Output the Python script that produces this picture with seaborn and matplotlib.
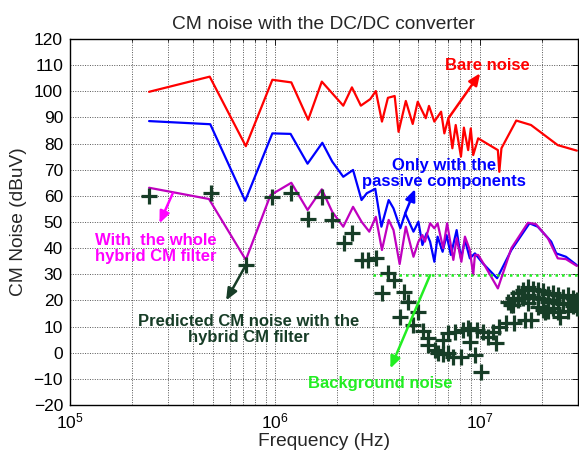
import numpy as np
import pandas as pd
import matplotlib
matplotlib.use("Agg")
import matplotlib.pyplot as plt
import seaborn as sns
from matplotlib.ticker import LogLocator, NullFormatter

# ---- measured CM noise spectra (frequency in MHz, level in dBuV) ----
bare_f = [0.243, 0.48, 0.72, 0.97, 1.2, 1.45, 1.69, 2.15, 2.37, 2.62, 2.91, 3.1,
          3.32, 3.55, 3.83, 4.0, 4.34, 4.69, 4.96, 5.43, 5.63, 5.98, 6.45, 6.69,
          7.0, 7.32, 7.6, 8.06, 8.33, 8.74, 9.0, 9.25, 9.78, 12.2, 12.4, 12.7,
          15.0, 17.7, 23.9, 29.6]
bare_db = [99.8, 105.6, 79.0, 104.4, 103.4, 89.1, 103.7, 94.5, 101.5, 94.5, 97.0, 100.1,
           88.4, 97.5, 98.2, 84.5, 96.3, 87.5, 96.0, 89.7, 94.4, 88.4, 92.2, 83.9,
           89.7, 78.2, 87.1, 75.0, 86.1, 77.5, 85.8, 75.6, 82.0, 77.5, 69.2, 78.2,
           88.8, 87.1, 79.4, 77.3]

passive_f = [0.243, 0.483, 0.715, 0.97, 1.19, 1.44, 1.7, 1.9, 2.15, 2.4, 2.64, 2.8,
             3.08, 3.3, 3.58, 3.78, 4.08, 4.31, 4.73, 5.0, 5.23, 5.48, 5.7, 5.98,
             6.2, 6.56, 6.86, 7.2, 7.68, 8.06, 8.43, 8.91, 9.43, 10.3, 12.1, 14.2,
             17.4, 19.1, 22.2, 23.5, 26.2, 29.6]
passive_db = [88.6, 87.4, 58.1, 83.9, 83.7, 72.3, 80.3, 73.1, 67.3, 69.9, 58.4, 61.0,
              62.7, 48.2, 58.4, 55.2, 47.6, 53.3, 46.3, 50.1, 41.2, 45.7, 42.5, 34.8,
              44.4, 38.6, 45.0, 37.4, 46.9, 36.1, 43.1, 36.1, 38.0, 34.2, 28.5, 39.3,
              49.5, 48.2, 42.5, 38.0, 36.7, 33.5]

hybrid_f = [0.243, 0.476, 0.72, 0.95, 1.2, 1.44, 1.69, 1.9, 2.15, 2.4, 2.64, 2.88,
            3.1, 3.32, 3.58, 3.78, 4.05, 4.34, 4.73, 5.0, 5.23, 5.38, 5.7, 5.98,
            6.2, 6.6, 6.9, 7.4, 7.68, 8.1, 8.43, 8.9, 9.25, 9.43, 9.78, 10.5,
            12.2, 14.2, 17.1, 18.7, 21.4, 23.9, 26.2, 29.6]
hybrid_db = [63.1, 58.8, 35.5, 60.3, 65.0, 54.6, 62.5, 53.9, 48.2, 55.8, 50.1, 46.3,
             52.0, 39.3, 50.8, 46.9, 33.9, 48.2, 36.7, 42.5, 45.0, 42.5, 49.5, 47.6,
             49.5, 40.0, 49.5, 35.5, 43.8, 34.8, 44.4, 39.3, 29.7, 37.4, 37.4, 33.5,
             24.6, 40.0, 49.7, 49.2, 43.8, 36.1, 35.8, 33.2]

# predicted CM noise with the hybrid filter
pred_f = [0.243, 0.486, 0.72, 0.97, 1.2, 1.44, 1.69, 1.9, 2.16, 2.37, 2.64, 2.85,
          3.1, 3.32, 3.57, 3.78, 4.08, 4.23, 4.47, 4.69, 5.0, 5.29, 5.55, 5.59,
          6.03, 6.26, 6.61, 6.61, 6.94, 7.0, 7.4, 7.54, 8.11, 8.27, 8.74, 8.91,
          8.91, 9.43, 9.6, 10.1, 10.3, 10.9, 11.6, 12.0, 12.4, 13.4, 14.7, 16.5,
          17.7, 14.2, 13.7, 14.5, 14.5, 15.3, 15.3, 16.2, 16.2, 17.1, 17.1, 17.1,
          18.1, 18.1, 19.1, 19.1, 19.1, 20.2, 20.2, 20.2, 21.4, 21.4, 21.4, 22.6,
          22.6, 22.6, 23.9, 23.9, 23.9, 25.3, 25.3, 26.7, 26.7, 26.7, 28.3, 28.3,
          29.6, 29.6, 20.7, 24.6]
pred_db = [60.0, 61.0, 33.5, 59.7, 61.0, 51.0, 59.7, 50.6, 41.8, 45.7, 35.5, 35.5,
           36.1, 22.7, 30.4, 28.0, 13.8, 23.3, 19.5, 10.6, 15.7, 8.3, 5.5, 2.9,
           1.0, -0.3, 4.9, -0.6, -0.3, 7.4, -1.8, 8.0, -1.8, 8.7, 9.5, 4.2,
           8.7, -0.9, 8.7, -7.3, 8.0, 6.1, 8.0, 3.6, 10.0, 11.2, 11.2, 12.5,
           12.5, 18.2, 19.5, 21.0, 18.2, 22.7, 20.0, 24.0, 21.0, 25.0, 22.0, 19.0,
           24.5, 21.5, 24.0, 21.0, 17.5, 23.5, 20.5, 16.5, 22.5, 19.5, 16.0, 23.0,
           20.0, 17.0, 22.0, 19.0, 15.5, 21.5, 18.5, 22.0, 19.0, 16.0, 21.0, 18.0,
           20.0, 17.0, 15.7, 13.8]

# background noise floor
bg_f = [3.0, 29.6]
bg_db = [29.7, 29.7]

YTICKS = list(range(-20, 121, 10))

sns.set_style("white")
plt.rcParams["font.family"] = ["Liberation Sans", "DejaVu Sans"]
plt.rcParams["mathtext.fontset"] = "custom"
plt.rcParams["mathtext.rm"] = "Liberation Sans"

fig = plt.figure(figsize=(5.79, 4.59), dpi=100)
ax = fig.add_axes([70 / 579, 1 - 405 / 459, 508 / 579, 366 / 459])


def mhz(vals):
    return np.asarray(vals) * 1e6


curves = [
    (bare_f, bare_db, "#ff0000"),
    (passive_f, passive_db, "#0000ff"),
    (hybrid_f, hybrid_db, "#bf00bf"),
]
for f, db, col in curves:
    df = pd.DataFrame({"f": mhz(f), "db": db})
    sns.lineplot(data=df, x="f", y="db", ax=ax, color=col, lw=1.6,
                 estimator=None, sort=True, legend=False)

pred = pd.DataFrame({"f": mhz(pred_f), "db": pred_db})
sns.scatterplot(data=pred, x="f", y="db", ax=ax, marker="+", s=120,
                color="#173d27", linewidth=2.3, legend=False, zorder=4)

bg = pd.DataFrame({"f": mhz(bg_f), "db": bg_db})
sns.lineplot(data=bg, x="f", y="db", ax=ax, color="#22ee22", lw=1.8,
             linestyle=(0, (1, 1.6)), estimator=None, legend=False)

ax.set_xscale("log")
ax.set_xlim(1e5, 3e7)
ax.set_ylim(-20, 120)
ax.set_yticks(YTICKS)
ax.xaxis.set_major_locator(LogLocator(base=10))
ax.xaxis.set_minor_locator(LogLocator(base=10, subs=np.arange(2, 10)))
ax.xaxis.set_minor_formatter(NullFormatter())

grid_kw = dict(color="#555555", linestyle=(0, (1, 1.5)), linewidth=0.7)
ax.grid(True, which="major", axis="both", **grid_kw)
ax.grid(True, which="minor", axis="x", **grid_kw)
ax.set_axisbelow(True)

ax.tick_params(which="both", direction="in", top=True, right=True,
               labelsize=12.5, colors="black", pad=5)
ax.tick_params(which="major", length=4, width=0.6)
ax.tick_params(which="minor", length=2.5, width=0.5)
for sp in ax.spines.values():
    sp.set_linewidth(1.0)
    sp.set_color("black")

ax.set_title("CM noise with the DC/DC converter", fontsize=13.8, pad=7)
ax.set_xlabel("Frequency (Hz)", fontsize=13.8, labelpad=1)
ax.set_ylabel("CM Noise (dBuV)", fontsize=13.8, labelpad=5)


def note(text, xy_text, tail, head, color):
    ax.text(xy_text[0], xy_text[1], text, color=color, fontsize=12,
            fontweight="bold", ha="center", va="center", multialignment="center",
            linespacing=1.1, zorder=6)
    ax.annotate("", xy=head, xytext=tail,
                arrowprops=dict(arrowstyle="-|>,head_length=0.7,head_width=0.3",
                                color=color, lw=1.8, shrinkA=0, shrinkB=0),
                zorder=6)


note("Bare noise", (1.09e7, 110), (7.05e6, 90), (1.0e7, 106.9), "#ff0000")
note("Only with the\npassive components", (6.68e6, 68.4), (4.31e6, 53.3),
     (4.82e6, 62.6), "#0000ff")
note("With  the whole\nhybrid CM filter", (2.61e5, 40), (3.17e5, 61),
     (2.73e5, 49.5), "#ff00ff")
note("Predicted CM noise with the\nhybrid CM filter", (7.4e5, 8.8),
     (7.2e5, 33.5), (5.77e5, 20), "#173d27")
note("Background noise", (3.27e6, -11.6), (5.7e6, 29.7), (3.65e6, -6),
     "#22ee22")

fig.savefig("out.png", dpi=100)
